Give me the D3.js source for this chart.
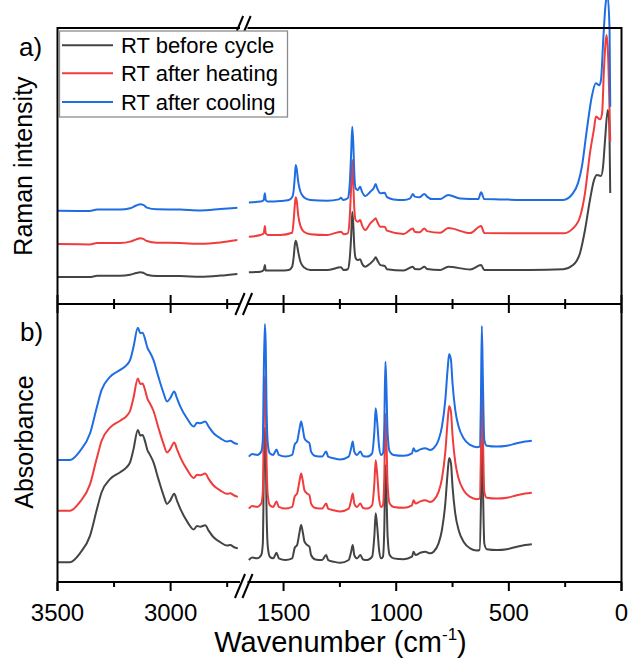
<!DOCTYPE html>
<html>
<head>
<meta charset="utf-8">
<script src="https://cdn.jsdelivr.net/npm/d3@7"></script>
<style>
  html, body { margin: 0; padding: 0; background: #fff; }
  svg { display: block; }
  text { font-family: "Liberation Sans", Arial, sans-serif; fill: #000; }
</style>
</head>
<body>
<svg id="chart" width="629" height="662"></svg>
<script>
// ---------------- DATA ----------------
const seriesNames = ["RT before cycle", "RT after heating", "RT after cooling"];
const seriesColors = ["#444444", "#f03c3c", "#1f6de3"];

const xMajorTicks = [3500, 3000, 1500, 1000, 500, 0];
const xMinorTicks = [3250, 2750, 1250, 750, 250];
const xBreak = [2700, 1700];

// Raman (panel a), [wavenumber, intensity a.u.]
const ramanBefore = [
  [3500,9.8],[3358,9.8],[3325,10.2],[3223,10.2],[3179,10.6],[3152,11.2],[3134,11.5],[3121,11.3],[3105,10.6],[3061,10.1],[2957,10.1],[2869,9.9],[2780,10.3],[2705,10.9],
  [1654,11.5],[1602,11.7],[1588,12.3],[1583,14.1],[1579,12.1],[1514,12.1],[1477,12.3],[1462,13.5],[1455,17.1],[1450,21.4],[1446,22.9],[1441,21.7],[1435,18.9],[1425,15.3],[1410,13.3],[1381,12.3],[1307,12.3],[1245,13.3],[1233,12.3],[1215,12.6],[1207,15.9],[1200,24.4],[1195,33.4],[1190,28.0],[1186,20.8],[1180,16.6],[1171,15.9],[1160,16.2],[1152,14.7],[1137,13.5],[1115,14.7],[1100,15.9],[1091,16.9],[1084,15.9],[1070,14.1],[1051,13.8],[1041,12.6],[967,12.1],[926,13.5],[918,12.7],[896,12.6],[875,13.5],[863,12.7],[805,12.3],[769,13.5],[672,12.5],[623,14.1],[609,12.3],[406,12.3],[259,12.6],[215,14.1],[184,18.5],[162,26.8],[140,37.7],[122,44.9],[109,46.7],[91,46.4],[82,49.7],[73,59.4],[61,70.3],[55,66.7],[50,40.2]
];
const ramanHeating = [
  [3500,21.7],[3358,21.6],[3325,22.1],[3223,22.1],[3179,22.6],[3152,23.4],[3134,23.8],[3121,23.6],[3105,22.8],[3061,22.2],[2957,22.1],[2869,21.8],[2780,22.3],[2705,23.2],
  [1654,24.4],[1602,25.0],[1588,25.5],[1583,28.3],[1579,25.6],[1570,25.0],[1514,25.0],[1462,25.8],[1455,30.4],[1450,35.9],[1446,38.7],[1441,37.1],[1435,32.2],[1425,28.3],[1410,26.2],[1381,25.3],[1307,25.0],[1245,26.2],[1233,25.3],[1215,25.6],[1207,30.4],[1200,42.5],[1195,52.2],[1190,42.5],[1186,34.7],[1180,30.4],[1171,29.8],[1160,30.4],[1152,28.6],[1137,26.8],[1115,29.2],[1100,30.4],[1091,31.1],[1084,29.8],[1070,28.0],[1051,28.0],[1041,26.6],[967,25.4],[926,27.4],[918,26.2],[896,26.0],[875,27.4],[863,26.4],[805,25.8],[769,27.5],[672,25.7],[623,28.3],[609,25.7],[406,25.6],[259,25.6],[215,27.4],[184,31.6],[162,40.2],[140,54.7],[123,63.0],[113,67.9],[95,66.9],[86,69.2],[78,84.8],[66,97.5],[60,91.0],[50,58.8]
];
const ramanCooling = [
  [3500,33.8],[3358,33.7],[3325,34.2],[3223,34.2],[3179,34.7],[3152,35.7],[3134,36.1],[3121,35.9],[3105,34.9],[3061,34.3],[2957,34.2],[2869,33.9],[2780,34.4],[2705,34.9],
  [1654,36.8],[1602,37.1],[1588,37.7],[1583,40.1],[1579,37.7],[1570,37.1],[1514,37.3],[1477,37.7],[1462,38.7],[1455,41.3],[1450,46.1],[1446,50.4],[1441,48.6],[1435,44.3],[1425,40.7],[1410,38.7],[1381,37.7],[1307,37.4],[1255,37.9],[1245,38.5],[1236,37.7],[1215,38.3],[1207,42.5],[1200,54.6],[1195,64.2],[1190,57.0],[1186,47.4],[1180,41.9],[1171,41.3],[1160,42.5],[1152,40.7],[1137,39.1],[1115,40.7],[1100,41.9],[1091,43.5],[1084,41.9],[1070,40.1],[1051,40.3],[1041,38.7],[1012,37.9],[967,37.7],[938,38.3],[926,39.9],[918,38.9],[896,38.7],[875,39.9],[863,38.9],[841,38.0],[805,38.0],[769,39.5],[716,38.2],[636,38.0],[623,40.5],[609,38.0],[539,37.9],[406,37.7],[259,37.7],[215,40.2],[193,43.8],[176,49.7],[154,63.0],[132,75.1],[114,80.0],[98,79.3],[91,81.2],[81,95.7],[71,108.3],[62,112.0],[53,99.3],[50,71.5]
];

// IR absorbance (panel b), [wavenumber, absorbance a.u.]
const irBefore = [
  [3500,7.1],[3445,7.1],[3401,10.3],[3356,16.7],[3327,25.8],[3305,32.3],[3268,37.0],[3223,39.5],[3194,41.3],[3179,43.1],[3164,47.8],[3145,54.7],[3134,52.7],[3124,52.9],[3112,50.3],[3102,47.3],[3093,46.0],[3076,43.1],[3054,37.0],[3031,31.1],[3016,28.1],[3002,29.3],[2984,31.7],[2972,29.3],[2957,26.3],[2928,21.9],[2898,18.9],[2883,20.1],[2869,19.9],[2847,20.4],[2832,18.5],[2810,16.1],[2780,14.3],[2750,13.1],[2736,13.3],[2721,12.6],[2703,12.1],
  [1654,7.9],[1639,8.8],[1617,8.5],[1599,9.7],[1592,13.9],[1588,36.6],[1583,55.6],[1579,47.4],[1576,28.3],[1570,12.7],[1561,9.1],[1546,8.5],[1531,10.5],[1521,8.5],[1492,7.9],[1462,8.5],[1450,12.4],[1440,13.3],[1430,17.5],[1422,20.5],[1415,18.1],[1407,14.5],[1395,13.3],[1385,12.7],[1378,9.7],[1359,8.1],[1329,7.9],[1311,9.7],[1302,7.9],[1277,7.3],[1248,6.9],[1211,7.9],[1200,10.9],[1193,13.3],[1186,9.7],[1174,8.5],[1159,9.7],[1147,8.1],[1129,7.9],[1107,9.1],[1097,16.5],[1091,24.7],[1084,19.6],[1076,11.5],[1067,8.5],[1059,9.1],[1053,18.7],[1048,42.0],[1044,34.3],[1038,16.3],[1029,9.7],[1012,8.5],[967,8.2],[930,9.1],[923,10.9],[914,9.7],[893,10.5],[871,10.9],[849,10.3],[834,10.9],[812,13.9],[797,18.7],[782,28.3],[772,39.1],[765,44.6],[757,42.7],[750,34.3],[738,24.7],[723,18.7],[701,14.5],[672,12.1],[642,11.3],[630,11.5],[624,28.3],[620,54.9],[615,34.3],[609,13.9],[598,11.8],[553,11.5],[509,11.8],[465,12.7],[428,13.3],[398,13.6]
];
const irHeating = [
  [3500,25.6],[3445,25.6],[3401,28.8],[3356,35.2],[3327,44.3],[3305,50.8],[3268,55.5],[3223,58.0],[3194,59.8],[3179,61.6],[3164,66.3],[3145,73.2],[3134,71.2],[3124,71.4],[3112,68.8],[3102,65.8],[3093,64.5],[3076,61.6],[3054,55.5],[3031,49.6],[3016,46.6],[3002,47.8],[2984,50.2],[2972,47.8],[2957,44.8],[2928,40.5],[2898,37.4],[2883,38.6],[2869,38.4],[2847,39.0],[2832,37.1],[2810,34.7],[2780,32.9],[2750,31.7],[2736,31.9],[2721,31.2],[2703,30.6],
  [1654,26.4],[1639,27.3],[1617,27.0],[1599,28.2],[1592,32.4],[1588,55.1],[1583,74.1],[1579,65.9],[1576,46.8],[1570,31.2],[1561,27.6],[1546,27.0],[1531,29.0],[1521,27.0],[1492,26.4],[1462,27.0],[1450,30.9],[1440,31.8],[1430,36.0],[1422,39.0],[1415,36.6],[1407,33.0],[1395,31.8],[1385,31.2],[1378,28.2],[1359,26.6],[1329,26.4],[1311,28.2],[1302,26.4],[1277,25.8],[1248,25.4],[1211,26.4],[1200,29.4],[1193,31.8],[1186,28.2],[1174,27.0],[1159,28.2],[1147,26.6],[1129,26.4],[1107,27.6],[1097,35.4],[1091,43.8],[1084,38.4],[1076,30.0],[1067,27.0],[1059,27.6],[1053,37.2],[1048,60.5],[1044,52.8],[1038,34.8],[1029,28.2],[1012,27.0],[967,26.7],[930,27.6],[923,29.4],[914,28.2],[893,29.0],[871,29.4],[849,28.8],[834,29.4],[812,32.4],[797,37.2],[782,46.8],[772,57.6],[765,63.3],[757,61.2],[750,52.8],[738,43.2],[723,37.2],[701,33.0],[672,30.6],[642,29.8],[630,30.0],[624,46.8],[620,73.4],[615,52.8],[609,32.4],[598,30.3],[553,30.0],[509,30.3],[465,31.2],[428,31.8],[398,32.1]
];
const irCooling = [
  [3500,43.9],[3445,43.9],[3401,47.1],[3356,53.5],[3327,62.6],[3305,69.1],[3268,73.8],[3223,76.3],[3194,78.1],[3179,79.9],[3164,84.6],[3145,91.5],[3134,89.5],[3124,89.7],[3112,87.1],[3102,84.1],[3093,82.8],[3076,79.9],[3054,73.8],[3031,67.9],[3016,64.9],[3002,66.1],[2984,68.5],[2972,66.1],[2957,63.1],[2928,58.9],[2898,55.9],[2883,57.3],[2869,57.1],[2847,57.7],[2832,55.9],[2810,53.5],[2780,51.7],[2750,50.5],[2736,50.8],[2721,50.1],[2703,49.6],
  [1654,45.1],[1639,46.0],[1617,45.7],[1599,46.9],[1592,51.1],[1588,73.8],[1583,92.8],[1579,84.6],[1576,65.5],[1570,49.9],[1561,46.3],[1546,45.7],[1531,47.7],[1521,45.7],[1492,45.1],[1462,45.7],[1450,49.6],[1440,50.5],[1430,54.7],[1422,57.7],[1415,55.3],[1407,51.7],[1395,50.5],[1385,49.9],[1378,46.9],[1359,45.3],[1329,45.1],[1311,46.9],[1302,45.1],[1277,44.5],[1248,44.1],[1211,45.1],[1200,48.1],[1193,50.5],[1186,46.9],[1174,45.7],[1159,46.9],[1147,45.3],[1129,45.1],[1107,46.3],[1097,54.1],[1091,62.5],[1084,57.1],[1076,48.7],[1067,45.7],[1059,46.3],[1053,55.9],[1048,79.2],[1044,71.5],[1038,53.5],[1029,46.9],[1012,45.7],[967,45.4],[930,46.3],[923,48.1],[914,46.9],[893,47.7],[871,48.1],[849,47.5],[834,48.1],[812,51.1],[797,55.9],[782,65.5],[772,76.3],[765,82.0],[757,79.9],[750,71.5],[738,61.9],[723,55.9],[701,51.7],[672,49.3],[642,48.5],[630,48.7],[624,65.5],[620,92.1],[615,71.5],[609,51.1],[598,49.0],[553,48.7],[509,49.0],[465,49.9],[428,50.5],[398,50.8]
];

// ---------------- LAYOUT ----------------
const L = 57.5, R = 621.5, T = 28, M = 304, B = 582;

const svg = d3.select("#chart");

const x = d3.scaleLinear()
  .domain([3500, xBreak[0], xBreak[1], 0])
  .range([L, 238.5, 238.5, R]);
const xb = x(xBreak[0]);

const yA = d3.scaleLinear().domain([0, 100]).range([M, T]);
const yB = d3.scaleLinear().domain([0, 100]).range([B, M]);

function drawPanel(seriesList, y) {
  const line = d3.line().x(d => x(d[0])).y(d => y(d[1])).curve(d3.curveMonotoneX);
  seriesList.forEach((s, i) => {
    const left = s.filter(d => d[0] >= 2000);
    const right = s.filter(d => d[0] < 2000);
    [left, right].forEach(seg => {
      svg.append("path").datum(seg)
        .attr("d", line)
        .attr("fill", "none")
        .attr("stroke", seriesColors[i])
        .attr("stroke-width", 2)
        .attr("stroke-linejoin", "round");
    });
  });
}

drawPanel([ramanBefore, ramanHeating, ramanCooling], yA);
drawPanel([irBefore, irHeating, irCooling], yB);

// ---------------- FRAME / AXES ----------------
const frame = svg.append("g").attr("stroke", "#000").attr("stroke-width", 2).attr("fill", "none");
const s1 = xb + 1.5, s2 = xb + 9;
function hline(yy) {
  frame.append("line").attr("x1", L).attr("x2", s1).attr("y1", yy).attr("y2", yy);
  frame.append("line").attr("x1", s2).attr("x2", R).attr("y1", yy).attr("y2", yy);
}
hline(T); hline(M); hline(B);
frame.append("line").attr("x1", L).attr("x2", L).attr("y1", T - 1).attr("y2", B + 9);
frame.append("line").attr("x1", R).attr("x2", R).attr("y1", T - 1).attr("y2", B + 9);

xMajorTicks.forEach(v => {
  const xx = x(v);
  frame.append("line").attr("x1", xx).attr("x2", xx).attr("y1", M - 9).attr("y2", M + 9);
  frame.append("line").attr("x1", xx).attr("x2", xx).attr("y1", B).attr("y2", B + 9);
});
xMinorTicks.forEach(v => {
  const xx = x(v);
  frame.append("line").attr("x1", xx).attr("x2", xx).attr("y1", M - 5).attr("y2", M + 5);
  frame.append("line").attr("x1", xx).attr("x2", xx).attr("y1", B).attr("y2", B + 5);
});

function breakMarks(cy, h) {
  [s1, s2].forEach(cx => {
    frame.append("line")
      .attr("x1", cx - h * 0.42).attr("y1", cy + h)
      .attr("x2", cx + h * 0.42).attr("y2", cy - h);
  });
}
breakMarks(23.5, 7.5);
breakMarks(M, 11);
breakMarks(B + 4, 12);

svg.append("g").selectAll("text").data(xMajorTicks).join("text")
  .attr("x", d => x(d)).attr("y", 620.5)
  .attr("text-anchor", "middle")
  .attr("font-size", 24)
  .text(d => d);

const xt = svg.append("text").attr("x", 340.5).attr("y", 652)
  .attr("text-anchor", "middle").attr("font-size", 29);
xt.append("tspan").text("Wavenumber (cm");
xt.append("tspan").attr("font-size", 17).attr("dy", -12).text("-1");
xt.append("tspan").attr("dy", 12).text(")");

svg.append("text").attr("transform", "translate(31.5,166) rotate(-90)")
  .attr("text-anchor", "middle").attr("font-size", 25).text("Raman intensity");
svg.append("text").attr("transform", "translate(33,442) rotate(-90)")
  .attr("text-anchor", "middle").attr("font-size", 25).text("Absorbance");

svg.append("text").attr("x", 19).attr("y", 56).attr("font-size", 26).text("a)");
svg.append("text").attr("x", 20).attr("y", 340.5).attr("font-size", 26).text("b)");

const lg = svg.append("g");
lg.append("rect").attr("x", 59.5).attr("y", 31).attr("width", 228).attr("height", 86)
  .attr("fill", "#fff").attr("stroke", "#8c8c8c").attr("stroke-width", 1.3);
const legY = [45.3, 73.3, 102];
seriesNames.forEach((n, i) => {
  lg.append("line").attr("x1", 62).attr("x2", 113).attr("y1", legY[i]).attr("y2", legY[i])
    .attr("stroke", seriesColors[i]).attr("stroke-width", 2);
  lg.append("text").attr("x", 121).attr("y", legY[i] + 7.8).attr("font-size", 22).text(n);
});
</script>
</body>
</html>
